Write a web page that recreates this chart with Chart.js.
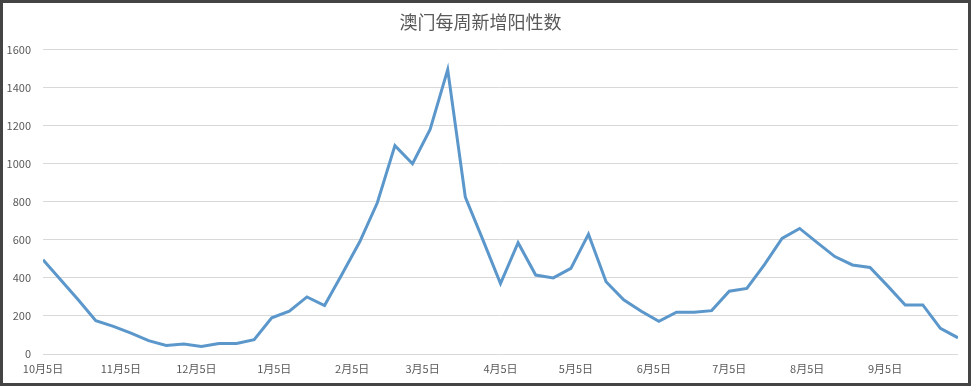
<!DOCTYPE html>
<html>
<head>
<meta charset="utf-8">
<script src="https://cdn.jsdelivr.net/npm/chart.js@4"></script>
<style>
  html, body { margin: 0; padding: 0; background: #ffffff; }
  #frame {
    width: 971px; height: 386px; box-sizing: border-box;
    border: 3px solid #444444; background: #ffffff; position: relative;
  }
  #wrap { width: 965px; height: 380px; position: relative; }
</style>
</head>
<body>
<div id="frame"><div id="wrap"><canvas id="c"></canvas></div></div>
<script>
// ---- data ----
const chartTitle = "澳门每周新增阳性数";
const seriesName = "每周新增阳性数";
// weekly values, first week = 10月5日, one value per week
const weeklyPositives = [
  495, 390, 285, 175, 145, 110, 70, 45, 52, 40,
  55, 55, 75, 190, 225, 300, 255, 420, 590, 795,
  1095, 1000, 1180, 1495, 825, 600, 370, 585, 415, 400,
  450, 630, 380, 285, 225, 172, 220, 220, 228, 330,
  345, 470, 608, 660, 585, 512, 468, 455, 358, 258,
  258, 135, 85
];
// x-axis month labels and their day offset from 10月5日
const monthLabels = ["10月5日","11月5日","12月5日","1月5日","2月5日","3月5日","4月5日","5月5日","6月5日","7月5日","8月5日","9月5日"];
const monthDayOffsets = [0, 31, 61, 92, 123, 151, 182, 212, 243, 273, 304, 335];
const yTicks = [0, 200, 400, 600, 800, 1000, 1200, 1400, 1600];

const DAYS_PER_WEEK = 7;
const points = weeklyPositives.map((v, i) => ({ x: i * DAYS_PER_WEEK, y: v }));
const lastDay = (weeklyPositives.length - 1) * DAYS_PER_WEEK;

const FONT = '"Noto Sans CJK SC", "Noto Sans", sans-serif';

new Chart(document.getElementById('c'), {
  type: 'line',
  data: {
    datasets: [{
      label: seriesName,
      data: points,
      borderColor: '#5b97cb',
      borderWidth: 3,
      pointRadius: 0,
      tension: 0,
      fill: false,
      borderJoinStyle: 'miter'
    }]
  },
  options: {
    responsive: true,
    maintainAspectRatio: false,
    animation: false,
    layout: { padding: { left: 0, right: 10, top: 0, bottom: 0 } },
    plugins: {
      legend: { display: false },
      tooltip: { enabled: false },
      title: {
        display: true,
        text: chartTitle,
        color: '#595959',
        font: { family: FONT, size: 18, weight: 'normal' },
        padding: { top: 8, bottom: 17 }
      }
    },
    scales: {
      x: {
        type: 'linear',
        min: 0,
        max: lastDay,
        grid: { display: false, drawTicks: false },
        border: { display: false },
        afterBuildTicks: (scale) => {
          scale.ticks = monthDayOffsets.map(v => ({ value: v }));
        },
        afterFit: (scale) => { scale.height = 29; },
        ticks: {
          autoSkip: false,
          maxRotation: 0,
          padding: 8,
          color: '#595959',
          font: { family: FONT, size: 11 },
          callback: (value) => {
            const k = monthDayOffsets.indexOf(value);
            return k >= 0 ? monthLabels[k] : '';
          }
        }
      },
      y: {
        min: 0,
        max: 1600,
        afterBuildTicks: (scale) => {
          scale.ticks = yTicks.map(v => ({ value: v }));
        },
        afterFit: (scale) => { scale.width = 40; },
        grid: { color: '#d9d9d9', lineWidth: 1, drawTicks: false },
        border: { display: false },
        ticks: {
          padding: 12,
          color: '#595959',
          font: { family: FONT, size: 11 },
          callback: (value) => String(value)
        }
      }
    }
  }
});
</script>
</body>
</html>
